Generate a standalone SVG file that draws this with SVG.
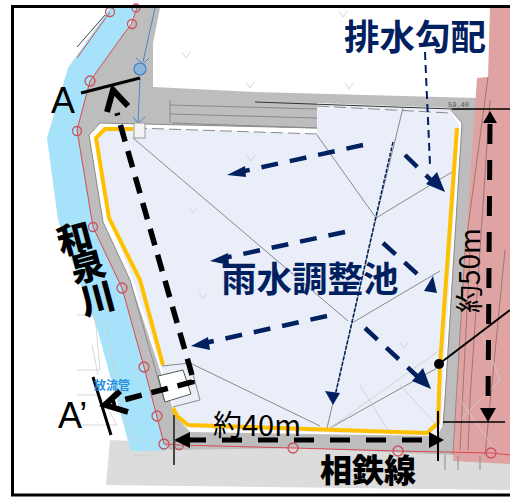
<svg xmlns="http://www.w3.org/2000/svg" width="510" height="498" viewBox="0 0 510 498">
<style>
.jp{font-family:"Noto Sans CJK JP","Noto Sans",sans-serif}
.navy{fill:#002060}
.lat{font-family:"Liberation Sans",Arial,sans-serif}
.rc{fill:none;stroke:#c8535f;stroke-width:1.3}
.g{fill:none;stroke:#8a8a8a;stroke-width:1}
.f{fill:none;stroke:#cdcdcd;stroke-width:.8}
.p{fill:none;stroke:#8f6a6a;stroke-width:.8}
.nd{fill:none;stroke:#002060;stroke-width:4.5;stroke-dasharray:17 12}
.bd{fill:none;stroke:#000;stroke-width:5.5;stroke-dasharray:17 10}
.dm{fill:none;stroke:#000;stroke-width:5;stroke-dasharray:20 16}
.k{fill:none;stroke:#000}
</style>
<defs>
<path id="v" d="M-4-3 0 3 4-3" fill="none" stroke="#cfcfcf" stroke-width=".8"/>
</defs>
<rect width="510" height="498" fill="#fff"/>
<g id="ground">
<path d="M110 440 L106 485 L510 490 L510 455 L300 448Z" fill="#dcdcdc"/>
<path d="M110 8 L68 68 L47 138 L58 220 L67 248 L97 328 L130 448 L131 451 L166 451 L137 300 L118 240 L78 127 L137 8Z" fill="#a6e3fb"/>
<path d="M137 8 L131 24 L90 81 L77 130 L93 227 L122 288 L144 367 L164 444 L170 450 L300 448 L453 455 L465 250 L477 98 L255 92 L153 87 L153 43 L160 8Z" fill="#bdbdbd"/>
<path d="M490 8 H510 V464 L453 461 L465 250 L477 78 L488 77Z" fill="#e0a3a3"/>
<path d="M100 123 L89 135 L103 222 L130 280 L160 370 L175 415 L190 432 L437 436 L443 425 L462 123 L450 108 L317 103 L317 128Z" fill="#fff"/>
<path d="M106 128 L94 138 L113 228 L135 285 L162 370 L176 415 L190 428 L435 436 L441 425 L459 125 L450 110 L317 104 L317 134 L140 128Z" fill="#e9eef8"/>
<path d="M170 100 L317 103 V128 L170 123Z" fill="#bdbdbd"/>
</g>
<g id="survey-lines">
<path class="g" d="M170 100V123M170 105 317 109M170 114 317 118M172 123 317 128"/>
<path class="g" d="M100 123 89 135 103 222 130 280 164 400M100 123 317 128" />
<path class="g" stroke-dasharray="12 5" d="M135 128 317 134M317 106 450 113"/>
<path d="M255 102 452 109" fill="none" stroke="#333" stroke-width="1"/>
<path class="g" d="M450 109 462 123 445 400 443 425"/>
<path class="g" d="M133 138 348 321M317 135 376 218M403 108 376 218 352 323 327 428M376 218 452 172M352 323 440 271M330 428 437 368M190 363 320 426"/>
<path d="M110 12 77 58M137 8 131 24 90 81 77 130 93 227 122 288 144 367 164 444 179 445 293 448 398 451 491 453 510 455" fill="none" stroke="#d84a52" stroke-width="1"/>
<path d="M77 47 105 15" fill="none" stroke="#444" stroke-width="1"/>
<path class="f" d="M105 320 120 400 132 440M92 345 98 375M77 315H95L100 370H77M77 395H100L117 425H82M134 440H152V455H134"/>
<path class="p" d="M488 77 465 250 453 455M470 250 460 450M490 100 470 400 468 450M505 250 485 455"/>
<path class="f" d="M330 428 440 350M360 385 400 450M400 385 450 440M460 400 495 450M480 330 500 380 460 420"/>
<path d="M445 455V470M458 456V470M480 456V470" fill="none" stroke="#8a8a8a" stroke-width="1"/>
<g class="rc">
<circle cx="110" cy="12" r="4.5"/><circle cx="132" cy="24" r="4.5"/><circle cx="90" cy="81" r="5"/><circle cx="77" cy="131" r="4.5"/><circle cx="93" cy="227" r="4.5"/><circle cx="122" cy="288" r="5"/><circle cx="144" cy="367" r="5"/><circle cx="157" cy="416" r="5"/><circle cx="164" cy="444" r="5"/><circle cx="179" cy="445" r="4.5"/><circle cx="293" cy="448" r="5"/><circle cx="398" cy="451" r="5"/><circle cx="491" cy="453" r="5"/><circle cx="136" cy="8" r="4"/>
</g>
<use href="#v" x="186" y="55"/><use href="#v" x="250" y="85"/><use href="#v" x="343" y="14"/><use href="#v" x="349" y="86"/><use href="#v" x="193" y="210"/><use href="#v" x="203" y="296"/><use href="#v" x="251" y="158"/><use href="#v" x="404" y="345"/>
</g>
<g id="pipe">
<path d="M155 8 143 62M140 78 138 122" fill="none" stroke="#4a86c5" stroke-width="1"/>
<circle cx="140" cy="69" r="6" fill="#8fb4dc" stroke="#3f7fc0" stroke-width="1.2"/>
<path d="M136 58 143 64 149 58M133 117 138 123 145 117" fill="none" stroke="#4a86c5" stroke-width="1"/>
<rect x="134" y="123" width="11" height="15" fill="#f3f3f3" stroke="#999"/>
</g>
<g id="outfall">
<path d="M162 366 190 363 200 400 173 407" fill="none" stroke="#8a8a8a"/>
<path d="M158 376 183 370 191 394 165 402Z" fill="#fff" stroke="#555"/>
</g>
<g id="retaining-wall">
<path d="M133 129H105L96 138 109 218 140 280 163 365M173 408 177 416 188 425 427 433 438 423 440 365 457 128" fill="none" stroke="#ffc000" stroke-width="4"/>
</g>
<g id="connectors">
<path class="nd" d="M363 145 240 172"/><path class="navy" d="M227 175 245 166 246 177Z"/>
<path class="nd" d="M345 232 224 258"/><path class="navy" d="M210 261 228 253 229 265Z"/>
<path class="nd" d="M327 316 205 343"/><path class="navy" d="M191 346 208 337 210 350Z"/>
<path class="nd" d="M405 155 434 183"/><path class="navy" d="M445 192 426 184 437 172Z"/>
<path class="nd" d="M383 243 425 281"/><path class="navy" d="M437 293 424 291 433 276Z"/>
<path class="nd" d="M365 328 418 377"/><path class="navy" d="M431 389 412 381 423 368Z"/>
<path d="M425 52 430 165" fill="none" stroke="#002060" stroke-width="2" stroke-dasharray="8 5"/>
<path d="M393 142 336 392" fill="none" stroke="#002060" stroke-width="1.5" stroke-dasharray="4 1.5"/>
<path class="navy" d="M333 405 325 391 340 393Z"/>
<path class="bd" d="M192 375 117 113"/>
<path class="k" stroke-width="6" d="M107 112 113 90 128 106"/>
<path class="bd" d="M192 380V382L112 403"/>
<path class="k" stroke-width="6" d="M120 391 105 405 128 412"/>
<path class="k" stroke-width="3" d="M81 93 140 78M93 377 111 435"/>
<path class="dm" d="M186 440H428"/>
<path d="M174 440 190 432V448ZM444 440 429 432V448Z" fill="#000"/>
<path d="M174 415V465" stroke="#444" stroke-width="2" fill="none"/>
<path d="M438 411V461" stroke="#000" stroke-width="2" fill="none"/>
<path d="M452 109H510M443 422H505" stroke="#000" stroke-width="1.5" fill="none"/>
<path class="dm" d="M490 124 488 408"/>
<path d="M490 111 497 123H483ZM488 422 480 408H496Z" fill="#000"/>
<circle cx="439" cy="364" r="5" fill="#000"/>
<path class="k" stroke-width="2" d="M439 364 510 310"/>
</g>
<g id="labels">
<text class="jp navy" x="344" y="50" font-size="35.5" font-weight="700">排水勾配</text>
<text class="jp navy" x="221" y="292" font-size="35.5" font-weight="700">雨水調整池</text>
<text class="lat" x="51" y="113" font-size="36">A</text>
<text class="lat" x="58" y="428" font-size="36">A’</text>
<text class="jp" x="94" y="390" font-size="12" font-weight="700" fill="#2a8fe0">放流管</text>
<text class="jp" x="213" y="436" font-size="29">約40m</text>
<text class="jp" transform="translate(480 313) rotate(-90)" font-size="28">約50m</text>
<text class="jp" x="320" y="482" font-size="32" font-weight="900">相鉄線</text>
<text class="jp" transform="translate(78 251) rotate(-15)" font-size="35" font-weight="900" text-anchor="middle">和</text>
<text class="jp" transform="translate(91 279) rotate(-15)" font-size="35" font-weight="900" text-anchor="middle">泉</text>
<text class="jp" transform="translate(101 311) rotate(-15)" font-size="35" font-weight="900" text-anchor="middle">川</text>
<text x="448" y="107" font-family="Liberation Mono,monospace" font-size="7" fill="#555">59.40</text>
</g>
<g id="frame"><path d="M510 6.5H12.5V495H510" fill="none" stroke="#000" stroke-width="3"/></g>
</svg>
